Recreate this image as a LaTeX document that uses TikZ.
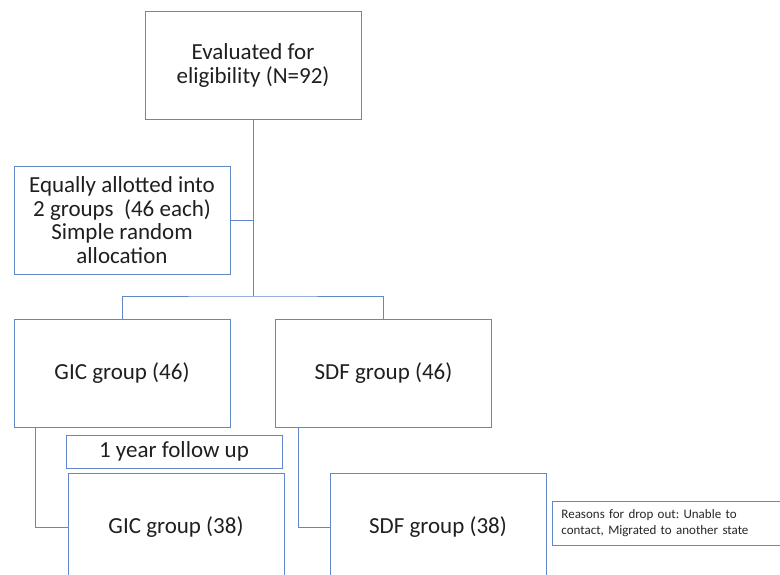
\documentclass[tikz,border=0pt]{standalone}
\usepackage{fontspec}
\setmainfont{Carlito}
\usepackage{tikz}
\definecolor{boxblue}{RGB}{98,134,202}
\frenchspacing

\begin{document}
\begin{tikzpicture}[x=1pt,y=-1pt]
    \tikzstyle{every node}+=[inner sep=2pt]
    \tikzstyle{flowbox}=[draw=boxblue, line width=0.9pt, minimum width=216pt, minimum height=108pt, align=center, text=black!88, font=\fontsize{23}{23.5}\selectfont]
    \tikzstyle{link}=[draw=boxblue, line width=0.9pt]
    \useasboundingbox (0,0) rectangle (780,575);
    \clip (0,0) rectangle (780,575);
    \node [flowbox] (eval) at (253,65.5) {Evaluated for\\eligibility (N=92)};
    \node [flowbox] (allot) at (122,220) {Equally allotted into\\2 groups\ \ (46 each)\\Simple random\\allocation};
    \coordinate (split) at (253,296);
    \node [flowbox] (gic) at (122,373) {GIC group (46)};
    \node [flowbox] (sdf) at (383.5,373) {SDF group (46)};
    \node [flowbox, minimum height=33pt] (follow) at (174,451.5) {1 year follow up};
    \node [flowbox] (gicend) at (176,527) {GIC group (38)};
    \node [flowbox] (sdfend) at (438,527) {SDF group (38)};
    \node [draw=boxblue, line width=0.9pt, anchor=west, text width=240pt, minimum height=44pt, align=left, inner xsep=9pt, text=black!85, font=\fontsize{13}{16}\selectfont] (drop) at (552,523) {Reasons for drop out: Unable to\\contact, Migrated to another state};
    \draw [link] (eval.south) -- (split);
    \draw [link] (allot.east) -- (allot.east -| split);
    \draw [link] (gic.north) |- (split) -| (sdf.north);
    \draw [link] ([xshift=22pt]gic.south west) |- (gicend.west);
    \draw [link] ([xshift=23pt]sdf.south west) |- (sdfend.west);
\end{tikzpicture}
\end{document}
